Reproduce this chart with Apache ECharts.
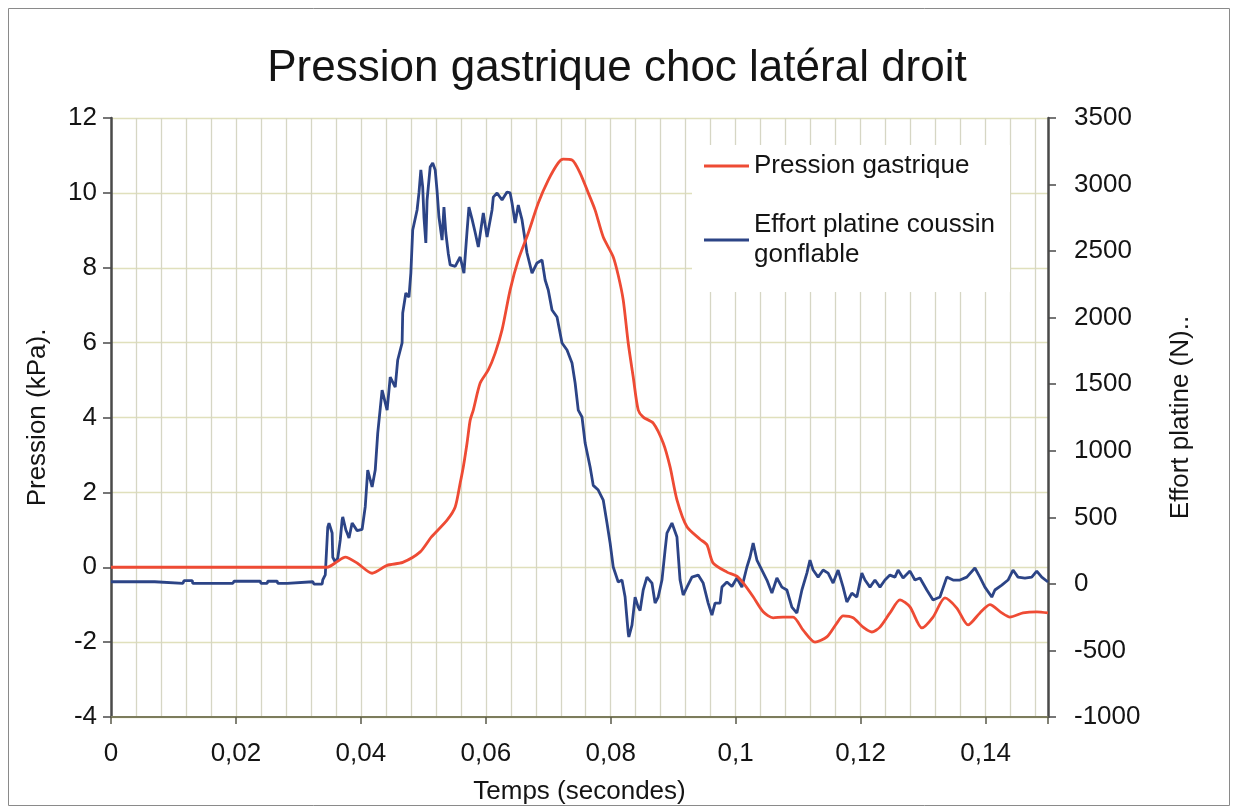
<!DOCTYPE html>
<html>
<head>
<meta charset="utf-8">
<script src="https://cdn.jsdelivr.net/npm/echarts@6/dist/echarts.min.js"></script>
<style>
  html, body { margin: 0; padding: 0; background: #ffffff; }
  #chart { width: 1234px; height: 811px; }
</style>
</head>
<body>
<div id="chart"></div>
<script>
// Titles and series names
const chartTitle = 'Pression gastrique choc latéral droit';
const xAxisTitle = 'Temps (secondes)';
const leftAxisTitle = 'Pression (kPa).';
const rightAxisTitle = 'Effort platine (N)..';
const pressureName = 'Pression gastrique';
const forceName = 'Effort platine coussin gonflable';

// Gastric pressure (kPa) against time (s)
const pressureTime = [
  0.0000, 0.0346, 0.0362, 0.0375, 0.0395, 0.0418, 0.0442, 0.0467, 0.0495, 0.0513,
  0.0538, 0.0551, 0.0559, 0.0564, 0.0570, 0.0575, 0.0580, 0.0591, 0.0604, 0.0615,
  0.0626, 0.0639, 0.0652, 0.0668, 0.0684, 0.0700, 0.0716, 0.0724, 0.0738, 0.0751,
  0.0764, 0.0775, 0.0788, 0.0804, 0.0812, 0.0820, 0.0828, 0.0836, 0.0844, 0.0852,
  0.0868, 0.0884, 0.0895, 0.0906, 0.0922, 0.0943, 0.0954, 0.0964, 0.0986, 0.1002,
  0.1012, 0.1028, 0.1044, 0.1060, 0.1076, 0.1092, 0.1108, 0.1127, 0.1146, 0.1162,
  0.1172, 0.1188, 0.1204, 0.1218, 0.1231, 0.1247, 0.1263, 0.1279, 0.1298, 0.1316,
  0.1335, 0.1354, 0.1372, 0.1391, 0.1407, 0.1426, 0.1439, 0.1460, 0.1482, 0.1500
];
const pressureKPa = [
  0, 0, 0.15, 0.27, 0.10, -0.16, 0.05, 0.13, 0.41, 0.81,
  1.26, 1.61, 2.25, 2.68, 3.32, 3.93, 4.20, 4.92, 5.27, 5.72,
  6.34, 7.41, 8.21, 8.93, 9.73, 10.34, 10.80, 10.90, 10.88, 10.53,
  10.00, 9.54, 8.82, 8.29, 7.80, 7.14, 5.99, 5.08, 4.20, 4.01,
  3.85, 3.32, 2.68, 1.80, 1.08, 0.75, 0.60, 0.11, -0.13, -0.24,
  -0.42, -0.79, -1.19, -1.35, -1.33, -1.33, -1.68, -2.00, -1.86, -1.49,
  -1.30, -1.35, -1.60, -1.73, -1.60, -1.22, -0.87, -1.06, -1.62, -1.33,
  -0.82, -1.09, -1.54, -1.22, -1.00, -1.22, -1.33, -1.22, -1.19, -1.22
];

// Airbag plate force (N) against time (s)
const forceTime = [
  0.0000, 0.0070, 0.0072, 0.0115, 0.0117, 0.0130, 0.0131, 0.0195, 0.0197, 0.0239,
  0.0240, 0.0250, 0.0251, 0.0266, 0.0267, 0.0282, 0.0283, 0.0323, 0.0325, 0.0338,
  0.0339, 0.0343, 0.0344, 0.0347, 0.0349, 0.0354, 0.0355, 0.0359, 0.0363, 0.0367,
  0.0370, 0.0371, 0.0376, 0.0378, 0.0381, 0.0386, 0.0387, 0.0394, 0.0402, 0.0407,
  0.0411, 0.0418, 0.0423, 0.0427, 0.0434, 0.0442, 0.0447, 0.0455, 0.0459, 0.0466,
  0.0467, 0.0472, 0.0477, 0.0480, 0.0483, 0.0490, 0.0493, 0.0496, 0.0499, 0.0501,
  0.0504, 0.0506, 0.0511, 0.0515, 0.0519, 0.0522, 0.0525, 0.0530, 0.0533, 0.0536,
  0.0540, 0.0543, 0.0551, 0.0559, 0.0565, 0.0570, 0.0573, 0.0578, 0.0583, 0.0588,
  0.0596, 0.0602, 0.0610, 0.0612, 0.0618, 0.0626, 0.0634, 0.0639, 0.0642, 0.0647,
  0.0652, 0.0658, 0.0666, 0.0674, 0.0682, 0.0690, 0.0695, 0.0700, 0.0706, 0.0714,
  0.0722, 0.0730, 0.0738, 0.0743, 0.0748, 0.0754, 0.0759, 0.0767, 0.0772, 0.0780,
  0.0788, 0.0794, 0.0799, 0.0804, 0.0812, 0.0818, 0.0823, 0.0828, 0.0829, 0.0834,
  0.0839, 0.0844, 0.0847, 0.0852, 0.0858, 0.0866, 0.0871, 0.0876, 0.0882, 0.0887,
  0.0890, 0.0898, 0.0901, 0.0906, 0.0911, 0.0916, 0.0922, 0.0930, 0.0940, 0.0948,
  0.0956, 0.0962, 0.0967, 0.0975, 0.0978, 0.0986, 0.0994, 0.1002, 0.1010, 0.1018,
  0.1023, 0.1028, 0.1034, 0.1042, 0.1050, 0.1058, 0.1066, 0.1074, 0.1082, 0.1090,
  0.1098, 0.1106, 0.1114, 0.1119, 0.1124, 0.1132, 0.1140, 0.1148, 0.1156, 0.1164,
  0.1172, 0.1178, 0.1186, 0.1194, 0.1202, 0.1207, 0.1215, 0.1223, 0.1231, 0.1239,
  0.1247, 0.1255, 0.1260, 0.1268, 0.1279, 0.1287, 0.1295, 0.1306, 0.1316, 0.1327,
  0.1338, 0.1348, 0.1359, 0.1370, 0.1383, 0.1391, 0.1399, 0.1410, 0.1415, 0.1426,
  0.1436, 0.1444, 0.1452, 0.1463, 0.1474, 0.1482, 0.1490, 0.1500
];
const forceN = [
  16, 16, 4, 4, 24, 24, 4, 4, 20, 20,
  4, 4, 20, 20, 4, 4, 16, 16, -2, -2,
  30, 67, 157, 427, 457, 382, 200, 164, 194, 330,
  480, 503, 405, 382, 345, 457, 465, 400, 410, 580,
  855, 728, 855, 1133, 1456, 1306, 1554, 1479, 1682, 1810,
  2035, 2185, 2155, 2335, 2659, 2809, 2937, 3110, 2980, 2756,
  2561, 2884, 3132, 3162, 3110, 2950, 2756, 2583, 2831, 2636,
  2480, 2396, 2385, 2456, 2335, 2650, 2831, 2740, 2640, 2531,
  2786, 2606, 2809, 2906, 2937, 2884, 2944, 2937, 2862, 2711,
  2846, 2734, 2486, 2335, 2411, 2433, 2283, 2208, 2058, 2005,
  1810, 1757, 1659, 1509, 1306, 1254, 1058, 878, 740, 705,
  630, 457, 307, 127, 14, 29, -99, -369, -399, -310,
  -99, -174, -200, -46, 51, 6, -144, -99, 29, 254,
  382, 457, 470, 352, 29, -84, -24, 51, 66, 6,
  -144, -234, -144, -144, -24, 14, -20, 44, -24, 127,
  202, 307, 179, 104, 29, -69, 44, -24, -46, -174,
  -219, -46, 81, 179, 104, 51, 104, 81, 6, 104,
  -24, -136, -69, -99, 81, 29, -24, 29, -24, 29,
  66, 51, 104, 44, 96, 29, 44, -46, -121, -99,
  51, 29, 29, 51, 119, 51, -24, -99, -46, -9,
  29, 104, 51, 44, 51, 96, 51, 14
];

// Axis ranges and tick spacing
const timeMin = 0, timeMax = 0.15, timeStep = 0.02, timeGridStep = 0.004;
const pressureMin = -4, pressureMax = 12, pressureStep = 2;
const forceMin = -1000, forceMax = 3500, forceStep = 500;

const pairs = (xs, ys) => xs.map((x, i) => [x, ys[i]]);

const FONT = "'Liberation Sans', Arial, sans-serif";
const TEXT = '#141414';

const chart = echarts.init(document.getElementById('chart'), null, { renderer: 'canvas' });

chart.setOption({
  backgroundColor: '#ffffff',
  animation: false,
  title: {
    text: chartTitle,
    left: 'center',
    top: 42,
    textStyle: { fontFamily: FONT, fontSize: 44, fontWeight: 'normal', color: TEXT }
  },
  grid: { left: 111, right: 186, top: 118, bottom: 94, containLabel: false },
  legend: [
    {
      data: [pressureName],
      left: 704, top: 151, padding: 0,
      icon: 'rect', itemWidth: 45, itemHeight: 3,
      textStyle: { fontFamily: FONT, fontSize: 26, color: TEXT, lineHeight: 30 }
    },
    {
      data: [forceName],
      left: 704, top: 195, padding: 0,
      icon: 'rect', itemWidth: 45, itemHeight: 3,
      formatter: () => 'Effort platine coussin\ngonflable',
      textStyle: { fontFamily: FONT, fontSize: 26, color: TEXT, lineHeight: 30, padding: [30, 0, 0, 0] }
    }
  ],
  graphic: [
    {
      type: 'rect', z: 1,
      shape: { x: 692, y: 145, width: 318, height: 147 },
      style: { fill: '#ffffff' }
    },
    {
      type: 'rect', z: 0, silent: true,
      shape: { x: 8.5, y: 8.5, width: 1221, height: 797 },
      style: { fill: null, stroke: '#8a8a8a', lineWidth: 1 }
    }
  ],
  xAxis: [
    {
      type: 'value',
      min: timeMin, max: timeMax, interval: timeStep,
      name: xAxisTitle, nameLocation: 'middle', nameGap: 62,
      nameTextStyle: { fontFamily: FONT, fontSize: 26, color: TEXT },
      axisLine: { show: true, onZero: false, lineStyle: { color: '#7c7c5c', width: 2 } },
      axisTick: { show: true, length: 7, lineStyle: { color: '#5a5a4a', width: 1.5 } },
      axisLabel: {
        margin: 24, fontFamily: FONT, fontSize: 26, color: TEXT,
        formatter: v => (v > timeMax - 1e-9 ? '' : String(+v.toFixed(3)).replace('.', ','))
      },
      splitLine: { show: false }
    },
    {
      // fine vertical grid
      type: 'value', position: 'bottom',
      min: timeMin, max: timeMax, interval: timeGridStep,
      axisLine: { show: false, onZero: false }, axisTick: { show: false }, axisLabel: { show: false },
      splitLine: { show: true, lineStyle: { color: '#d6d6c4', width: 1.3 } }
    }
  ],
  yAxis: [
    {
      type: 'value', position: 'left',
      min: pressureMin, max: pressureMax, interval: pressureStep,
      name: leftAxisTitle, nameLocation: 'middle', nameGap: 60, nameRotate: 90,
      nameTextStyle: { fontFamily: FONT, fontSize: 26, color: TEXT },
      axisLine: { show: true, onZero: false, lineStyle: { color: '#4a4a4a', width: 2.5 } },
      axisTick: { show: true, length: 8, lineStyle: { color: '#4a4a4a', width: 1.5 } },
      axisLabel: { margin: 14, fontFamily: FONT, fontSize: 26, color: TEXT },
      splitLine: { show: true, lineStyle: { color: '#e0e0bc', width: 1.3 } }
    },
    {
      type: 'value', position: 'right',
      min: forceMin, max: forceMax, interval: forceStep,
      name: rightAxisTitle, nameLocation: 'middle', nameGap: 120, nameRotate: 90,
      nameTextStyle: { fontFamily: FONT, fontSize: 26, color: TEXT },
      axisLine: { show: true, onZero: false, lineStyle: { color: '#4a4a4a', width: 2.5 } },
      axisTick: { show: true, length: 8, lineStyle: { color: '#4a4a4a', width: 1.5 } },
      axisLabel: { margin: 26, fontFamily: FONT, fontSize: 26, color: TEXT, formatter: v => String(v) },
      splitLine: { show: false }
    }
  ],
  series: [
    {
      name: pressureName, type: 'line',
      xAxisIndex: 0, yAxisIndex: 0,
      data: pairs(pressureTime, pressureKPa),
      symbol: 'none', smooth: 0.25, z: 3,
      itemStyle: { color: '#ee4b34' },
      lineStyle: { color: '#ee4b34', width: 2.8 }
    },
    {
      name: forceName, type: 'line',
      xAxisIndex: 0, yAxisIndex: 1,
      data: pairs(forceTime, forceN),
      symbol: 'none', smooth: false, z: 2,
      itemStyle: { color: '#2c4486' },
      lineStyle: { color: '#2c4486', width: 2.8 }
    }
  ]
});
</script>
</body>
</html>
